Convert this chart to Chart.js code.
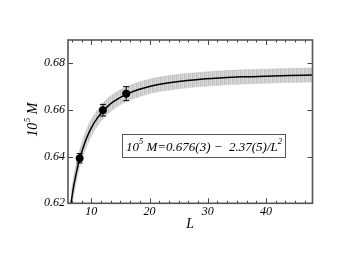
<!DOCTYPE html>
<html><head><meta charset="utf-8">
<script src="https://cdn.jsdelivr.net/npm/chart.js@4/dist/chart.umd.min.js"></script>
<style>html,body{margin:0;padding:0;background:#fff}#wrap{width:352px;height:272px}</style>
</head><body><div id="wrap"><canvas id="c" width="352" height="272"></canvas></div>
<script>
// Data points
const pointL = [8, 12, 16];
const pointM = [0.6393, 0.6599, 0.6670];
const pointErr = [0.0020, 0.0025, 0.0030];
// Fit curve
const curveL = [6.5, 7, 7.5, 8, 9, 10, 11, 12, 13, 14, 16, 18, 20, 22, 25, 28, 32, 36, 40, 44, 48];
const curveM = [0.6199, 0.6276, 0.6339, 0.6390, 0.6467, 0.6523, 0.6564, 0.6595, 0.6620, 0.6639, 0.6667, 0.6687, 0.6701, 0.6711, 0.6722, 0.6730, 0.6737, 0.6742, 0.6745, 0.6748, 0.6750];
// Uncertainty band
const bandHigh = [0.6241, 0.6317, 0.6378, 0.6428, 0.6504, 0.6558, 0.6598, 0.6629, 0.6653, 0.6672, 0.6699, 0.6718, 0.6732, 0.6742, 0.6753, 0.6760, 0.6767, 0.6772, 0.6775, 0.6778, 0.6780];
const bandLow  = [0.6157, 0.6236, 0.6300, 0.6352, 0.6431, 0.6488, 0.6530, 0.6562, 0.6587, 0.6607, 0.6636, 0.6655, 0.6670, 0.6680, 0.6691, 0.6699, 0.6706, 0.6711, 0.6715, 0.6718, 0.6720];
// Axis settings
const xMin = 6, xMax = 48, xMajor = 10, xMinorPer = 6;
const yMin = 0.62, yMax = 0.69, yMajor = 0.02;

const xy = (xs, ys) => xs.map((x, i) => ({x: x, y: ys[i]}));

const pc = document.createElement('canvas'); pc.width = 4; pc.height = 1;
const pctx = pc.getContext('2d');
['#c2c2c2', '#d3d3d3', '#c9c9c9', '#dbdbdb'].forEach((c, i) => { pctx.fillStyle = c; pctx.fillRect(i, 0, 1, 1); });
const ctx = document.getElementById('c').getContext('2d');
const pattern = ctx.createPattern(pc, 'repeat');

const FONT = "'Liberation Serif', 'DejaVu Serif', serif";

const deco = {
  id: 'deco',
  afterDatasetsDraw(chart) {
    const c = chart.ctx, xs = chart.scales.x, ys = chart.scales.y;
    c.save();
    c.strokeStyle = '#000'; c.lineWidth = 1;
    pointL.forEach((L, i) => {
      const px = xs.getPixelForValue(L);
      const t = ys.getPixelForValue(pointM[i] + pointErr[i]);
      const b = ys.getPixelForValue(pointM[i] - pointErr[i]);
      c.beginPath();
      c.moveTo(px, t); c.lineTo(px, b);
      c.moveTo(px - 3, t); c.lineTo(px + 3, t);
      c.moveTo(px - 3, b); c.lineTo(px + 3, b);
      c.stroke();
    });
    c.restore();
  },
  afterDraw(chart) {
    const c = chart.ctx, xs = chart.scales.x, ys = chart.scales.y, a = chart.chartArea;
    c.save();
    // ticks inward
    c.strokeStyle = '#444'; c.lineWidth = 1;
    const step = xMajor / xMinorPer;
    for (let k = Math.ceil(xMin / step); k * step <= xMax + 1e-9; k++) {
      const v = k * step;
      const major = (k % xMinorPer) === 0;
      const len = major ? 5 : 2.5;
      const px = Math.round(xs.getPixelForValue(v)) + 0.5;
      c.beginPath();
      c.moveTo(px, a.bottom); c.lineTo(px, a.bottom - len);
      c.moveTo(px, a.top); c.lineTo(px, a.top + len);
      c.stroke();
    }
    ys.ticks.forEach(t => {
      const py = Math.round(ys.getPixelForValue(t.value)) + 0.5;
      c.beginPath();
      c.moveTo(a.left, py); c.lineTo(a.left + 5, py);
      c.moveTo(a.right, py); c.lineTo(a.right - 5, py);
      c.stroke();
    });
    // frame
    c.strokeStyle = '#555'; c.lineWidth = 1.6;
    c.strokeRect(a.left, a.top, a.right - a.left, a.bottom - a.top);
    // x title
    c.fillStyle = '#000';
    c.font = 'italic 14px ' + FONT;
    c.textAlign = 'center'; c.textBaseline = 'alphabetic';
    c.fillText('L', (a.left + a.right) / 2, 228);
    // y title (rotated)
    c.save();
    c.translate(37, 120);
    c.rotate(-Math.PI / 2);
    c.textAlign = 'left';
    const f1 = 'italic 14px ' + FONT, f2 = 'italic 9px ' + FONT;
    c.font = f1; const w10 = c.measureText('10').width;
    c.font = f2; const w5 = c.measureText('5').width;
    c.font = f1; const wM = c.measureText(' M').width;
    let x0 = -(w10 + w5 + wM) / 2;
    c.font = f1; c.fillText('10', x0, 0);
    c.font = f2; c.fillText('5', x0 + w10 + 0.5, -7);
    c.font = f1; c.fillText(' M', x0 + w10 + w5 + 0.5, 0);
    c.restore();
    // formula box
    c.fillStyle = '#fff';
    c.fillRect(122.5, 134.5, 163, 23);
    c.strokeStyle = '#555'; c.lineWidth = 1;
    c.strokeRect(122.5, 134.5, 163, 23);
    c.fillStyle = '#000';
    const g1 = 'italic 13px ' + FONT, g2 = 'italic 8.5px ' + FONT;
    const parts = [['10', g1, 0], ['5', g2, -7], [' M=0.676(3) \u2212  2.37(5)/L', g1, 0], ['2', g2, -7]];
    let tw = 0;
    parts.forEach(p => { c.font = p[1]; tw += c.measureText(p[0]).width; });
    let tx = 204 - tw / 2;
    c.textAlign = 'left';
    parts.forEach(p => { c.font = p[1]; c.fillText(p[0], tx, 151 + p[2]); tx += c.measureText(p[0]).width; });
    c.restore();
  }
};

new Chart(ctx, {
  type: 'line',
  data: {
    datasets: [
      { data: xy(pointL, pointM), showLine: false, pointRadius: 3.6, pointBackgroundColor: '#000', pointBorderColor: '#000', order: 0 },
      { data: xy(curveL, curveM), borderColor: '#000', borderWidth: 1.5, pointRadius: 0, cubicInterpolationMode: 'monotone', fill: false, order: 1 },
      { data: xy(curveL, bandHigh), borderColor: 'rgba(160,160,160,0.5)', borderWidth: 0.6, pointRadius: 0, cubicInterpolationMode: 'monotone', fill: '+1', backgroundColor: pattern, order: 2 },
      { data: xy(curveL, bandLow), borderColor: 'rgba(160,160,160,0.5)', borderWidth: 0.6, pointRadius: 0, cubicInterpolationMode: 'monotone', fill: false, order: 3 }
    ]
  },
  options: {
    responsive: false, animation: false, devicePixelRatio: 1,
    layout: { padding: { left: 0, right: 39.5, top: 40, bottom: 0 } },
    plugins: { legend: { display: false }, tooltip: { enabled: false } },
    scales: {
      x: {
        type: 'linear', min: xMin, max: xMax,
        grid: { display: false, drawTicks: false }, border: { display: false },
        ticks: { stepSize: xMajor, includeBounds: false, padding: 1, color: '#000', font: { family: FONT, style: 'italic', size: 12 } },
        afterFit(s) { s.height = 68.7; }
      },
      y: {
        type: 'linear', min: yMin, max: yMax,
        grid: { display: false, drawTicks: false }, border: { display: false },
        ticks: { stepSize: yMajor, includeBounds: false, padding: 3, color: '#000', font: { family: FONT, style: 'italic', size: 12 }, callback: v => v.toFixed(2) },
        afterFit(s) { s.width = 68; }
      }
    }
  },
  plugins: [deco]
});
</script></body></html>
